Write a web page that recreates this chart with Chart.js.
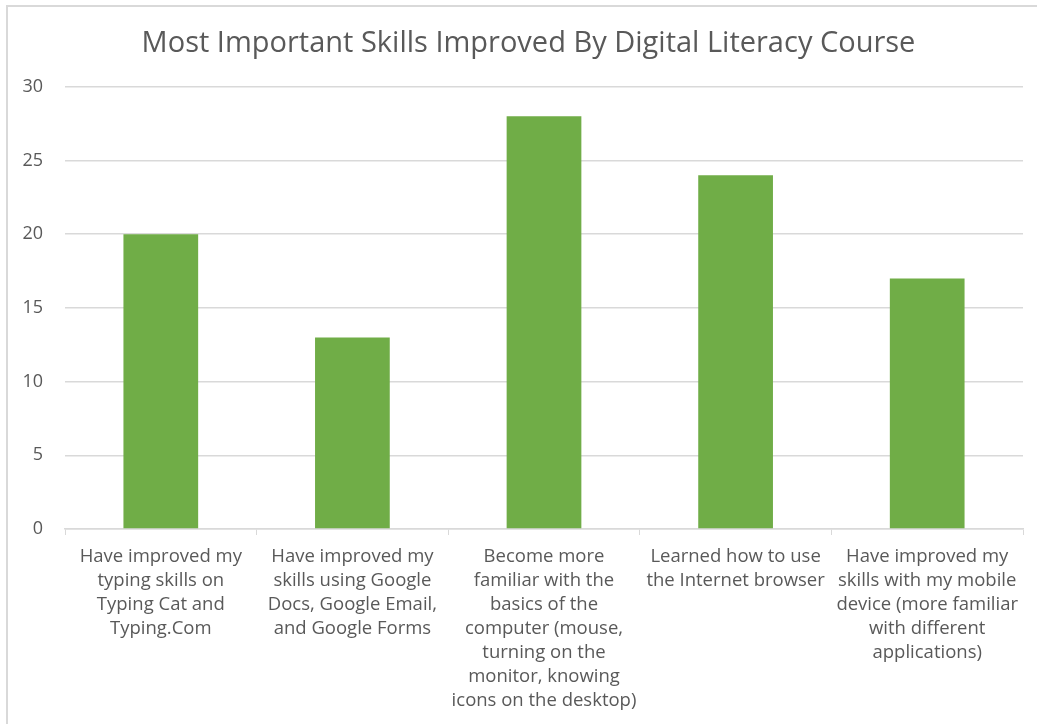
<!DOCTYPE html>
<html>
<head>
<meta charset="utf-8">
<script src="https://cdn.jsdelivr.net/npm/chart.js@4.4.1/dist/chart.umd.min.js"></script>
<style>
  html, body { margin: 0; padding: 0; background: #fff; }
  #wrap { position: relative; width: 1037px; height: 724px; }
  #frame {
    position: absolute; left: 6px; top: 5px; width: 1031px; height: 719px;
    border-top: 2px solid #d9d9d9; border-left: 2px solid #d9d9d9;
    box-sizing: border-box; pointer-events: none;
  }
</style>
</head>
<body>
<div id="wrap">
  <canvas id="skills-chart" width="1037" height="724"></canvas>
  <div id="frame"></div>
</div>
<script>
const chartTitle = 'Most Important Skills Improved By Digital Literacy Course';

const categories = [
  ['Have improved my', 'typing skills on', 'Typing Cat and', 'Typing.Com'],
  ['Have improved my', 'skills using Google', 'Docs, Google Email,', 'and Google Forms'],
  ['Become more', 'familiar with the', 'basics of the', 'computer (mouse,', 'turning on the', 'monitor, knowing', 'icons on the desktop)'],
  ['Learned how to use', 'the Internet browser'],
  ['Have improved my', 'skills with my mobile', 'device (more familiar', 'with different', 'applications)']
];

const responses = [20, 13, 28, 24, 17];

const yTicks = { min: 0, max: 30, step: 5 };

const textColor = '#595959';
const gridColor = '#d9d9d9';
const barColor = '#70ad47';

// nudge the title a bit right, it sits centred on the whole frame in the original
const shiftTitle = {
  id: 'shiftTitle',
  afterLayout(chart) {
    const t = chart.titleBlock;
    if (t) {
      t.left += 17;
      t.right += 17;
    }
  }
};

const ctx = document.getElementById('skills-chart');

new Chart(ctx, {
  type: 'bar',
  data: {
    labels: categories,
    datasets: [{
      label: 'Responses',
      data: responses,
      backgroundColor: barColor,
      borderWidth: 0,
      categoryPercentage: 1,
      barPercentage: 0.39
    }]
  },
  plugins: [shiftTitle],
  options: {
    responsive: false,
    animation: false,
    layout: { padding: { top: 0, left: 0, right: 14, bottom: 0 } },
    plugins: {
      legend: { display: false },
      tooltip: { enabled: false },
      title: {
        display: true,
        text: chartTitle,
        color: textColor,
        font: { family: 'Open Sans', size: 29, weight: 'normal', lineHeight: 1.2 },
        padding: { top: 26, bottom: 26 }
      }
    },
    scales: {
      x: {
        offset: true,
        grid: {
          offset: true,
          drawOnChartArea: false,
          drawTicks: true,
          tickLength: 6,
          color: gridColor
        },
        border: { display: true, color: gridColor, width: 1.5 },
        ticks: {
          color: textColor,
          font: { family: 'Open Sans', size: 18.5, lineHeight: '24px' },
          padding: 10,
          maxRotation: 0,
          autoSkip: false
        },
        afterFit: (scale) => { scale.height = 195; }
      },
      y: {
        min: yTicks.min,
        max: yTicks.max,
        grid: { color: gridColor, drawTicks: false, lineWidth: 1.5 },
        border: { display: false },
        ticks: {
          stepSize: yTicks.step,
          color: textColor,
          font: { family: 'Open Sans', size: 18 },
          padding: 22
        },
        afterFit: (scale) => { scale.width = 65; }
      }
    }
  }
});
</script>
</body>
</html>
